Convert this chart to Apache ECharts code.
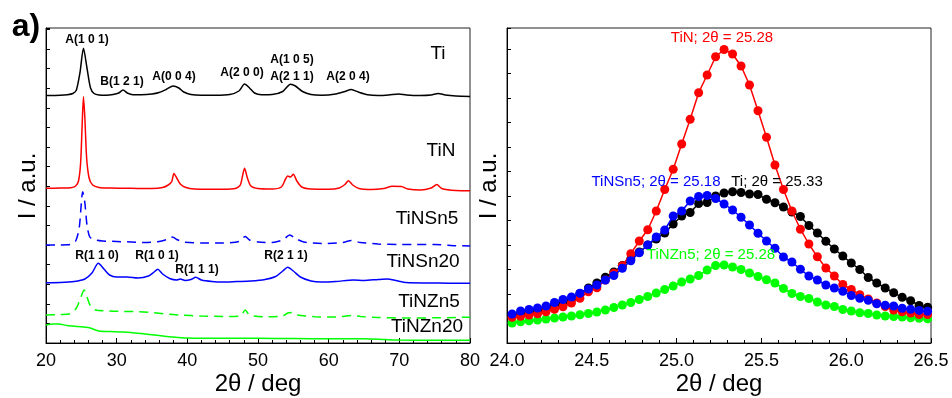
<!DOCTYPE html>
<html><head><meta charset="utf-8">
<script src="https://cdn.jsdelivr.net/npm/echarts@6.0.0/dist/echarts.min.js"></script>
<style>html,body{margin:0;padding:0;background:#fff}#c{width:952px;height:398px}</style>
</head><body><div id="c"></div>
<script>
// ---------- Left panel (XRD patterns, stacked, intensity in a.u.) ----------
const tiX = [20,22,23,23.8,24.3,24.8,25.3,25.8,26.3,26.8,27.5,28.5,29.5,30.3,30.9,31.5,32.3,33.5,35,36,37,38,38.8,39.5,40.5,42,44,46,47.3,48.1,48.8,49.5,50.5,52,53.5,54.6,55.3,56.3,57.5,59,61,62.3,63.2,64.2,65.5,67,68.5,69.9,71,73,74.5,75.5,76.5,78,80];
const tiY = [247.5,247.8,248.3,249.5,253,270,294.7,275,255,249.5,248,247.8,248.5,250,253,250,248.3,248.3,249,250.5,253.5,257,255,251,248.5,247.8,247.8,248.5,252,259,255,250,248.3,248.5,251.5,258.8,257,251.5,248.5,247.8,249,251.5,253.5,251,248.3,247.5,248,249,248,247.5,248,249.5,248,247,246.5];

const tinX = [20,22,23.5,24.2,24.6,24.9,25.1,25.3,25.5,25.75,26.1,26.6,27.5,29,31,33,35,36.5,37.3,37.8,38.1,38.5,39,39.8,41,43,45,46.8,47.5,48.1,48.5,49,50,52,53.3,53.9,54.2,54.6,55.0,55.5,56.2,57.5,60,61.5,62.3,62.8,63.4,64.3,66,67.8,69,70.3,71.2,73,74.5,75.3,76,78,80];
const tinY = [154.7,155,155.3,157,162,180,215,246.3,225,185,165,158,155.5,155,154.8,154.6,154.5,155.5,158,161.5,169.5,165,159,155.5,154,153.8,153.8,154.5,158,174.7,165,157,154.5,154,156,164,167,166,168.7,162,156,154,153.8,155,158.5,162.3,158,154.5,153.5,154.5,156.7,156.5,154,153,155,158.5,154.5,152.5,152.3];

const sn5X = [20,22,23.5,24.2,24.7,25.2,25.5,25.8,26.2,27,28,30,32,34,36,37.3,37.9,38.5,39.5,42,45,47.3,48.2,48.8,50,52,53.5,54.5,55.3,56.5,59,62,63.2,64.5,67,70,72,75,78,80];
const sn5Y = [98,98,98.5,102,115,151.3,140,118,106,103,102,101.5,101,100.5,101.5,104,106,103.5,101,100,100,101.5,106.5,103,101,100.5,103,108,104.5,101,99.5,100.5,102.5,100.5,99,98.5,98.5,98.5,97.3,97];

const sn20X = [20,22,24,25.5,26.5,27.4,28.2,29,30,31.5,33,34.5,35.3,35.8,36.5,37.5,38.5,39,39.7,40.5,41.2,42,43.5,45,47,49,51,52.5,53.5,54.2,55,56,57.5,59,61,63.5,65,67,68.3,69.5,71,74,77,80];
const sn20Y = [60.3,60.5,61.5,64,70,79.7,74,68,66,66,65,67,71,73.7,69,64.5,63,64,62.5,63.5,65.7,63,61.5,61,61.5,62,63.5,66.5,72,75.7,72,66,62,61,61.5,63,62.5,63.5,64,62.5,60.5,60,59.8,59.7];

const zn5X = [20,22,23.5,24.3,24.9,25.4,25.8,26.3,27,29,31,33,35,37,39,42,45,47.5,48.2,48.8,51,53.5,54.2,54.8,55.5,58,61,63.5,64.5,67,71,75,78,80];
const zn5Y = [28,28.5,29.5,35,45,53,46,37,33,32,31.5,31.3,30.5,29,28,27,26.5,27,33,28,26.3,27,30,30.5,28,26.3,26,27.5,26.5,25.5,25,25.2,25.5,25.8];

const zn20X = [20,21,21.8,23,24.5,26,27.5,29,30.5,32,34,36,38,40,45,50,55,60,65,68,70,75,80];
const zn20Y = [18,19,19,17.5,16.5,15.5,12,11.5,11,10.5,9,7.5,6,5,4.7,4.7,4.5,4.2,4.3,3.5,3,2.8,2.7];

// ---------- Right panel (A(101) peak detail) ----------
const peakX = [24.03,24.08,24.13,24.18,24.23,24.28,24.33,24.38,24.43,24.48,24.53,24.58,24.63,24.68,24.73,24.78,24.83,24.88,24.93,24.98,25.03,25.08,25.13,25.18,25.23,25.28,25.33,25.38,25.43,25.48,25.53,25.58,25.63,25.68,25.73,25.78,25.83,25.88,25.93,25.98,26.03,26.08,26.13,26.18,26.23,26.28,26.33,26.38,26.43,26.48];
const peakTi = [27,29,30.5,32,34,37,40,44,49.5,55,60,65.7,71,77.5,84,91,98,104,110,119,127,130.5,139.5,140.5,147,150,151.3,150.5,149,148.5,143.7,140.3,136,131,126.5,117.5,110,101.8,94,87,80,73.5,65.5,60,55,50.2,45.7,42.3,37.5,35.7];
const peakTiN = [25.7,26.7,28,29.3,31.3,33.8,36.3,40,44.7,51.3,55.2,63,69.7,77.3,89.3,102,113.3,132,153.5,173.7,199,223.7,250.3,268,286.3,293.5,289,277,258,232.3,205.7,178,153.5,132,113.8,99,86.2,75,67,58.5,53.5,48.3,44,40,36.5,33,31.3,30,28.5,28.5];
const peakSn5 = [29,32,33.5,35,37,40.5,43.5,46,49.7,54,58,63,67.5,74.7,82.3,90.3,98,106,113,127,132,142,146.5,147.5,144.5,139,133,125.7,118,109.7,102,94.7,86,81,73.7,67,63,58,55,51.8,47.5,44.7,42.7,39.3,37.7,37,34.7,33.7,32.6,31.8];
const peakZn5 = [20,21.2,22.2,23,24,25,26,27,28.3,29.5,31,33,35.5,38,40.5,43.5,46.5,50,53.5,57,61,64,67.5,73,77.5,78,76,73.5,70,66.5,63.3,60,54.5,49.5,46.5,44.5,41,38,36.5,33.5,32,30.3,29.5,28,27,26.5,26,25.2,24.7,24.2];

const leftTicks = ['20','30','40','50','60','70','80'];
const rightTicks = ['24.0','24.5','25.0','25.5','26.0','26.5'];

const FONT = '"Liberation Sans", Arial, sans-serif';
const zip = (xs, ys) => xs.map((x, i) => [x, ys[i]]);

const chart = echarts.init(document.getElementById('c'), null, {renderer: 'canvas'});

function xAxisCfg(gi, min, max, interval, fmt) {
  return {
    type: 'value', gridIndex: gi, min: min, max: max, interval: interval,
    axisLine: {lineStyle: {color: '#000', width: 1}},
    axisTick: {inside: true, length: 5, lineStyle: {color: '#000'}},
    minorTick: {show: true, splitNumber: 5, length: 3, lineStyle: {color: '#000'}},
    splitLine: {show: false},
    axisLabel: {fontSize: 18, color: '#000', fontFamily: FONT, margin: 9, formatter: fmt, hideOverlap: false}
  };
}
function yAxisCfg(gi, interval) {
  return {
    type: 'value', gridIndex: gi, min: 0, max: 315, interval: interval,
    axisLine: {lineStyle: {color: '#000', width: 1}},
    axisTick: {inside: true, length: 4, lineStyle: {color: '#000'}},
    splitLine: {show: false},
    axisLabel: {show: false}
  };
}
function lineSeries(xs, ys, color, dashed) {
  return {
    type: 'line', xAxisIndex: 0, yAxisIndex: 0, data: zip(xs, ys),
    symbol: 'none', smooth: 0.25, animation: false,
    lineStyle: {color: color, width: 1.5, type: dashed ? [9, 6] : 'solid'}
  };
}
function dotSeries(ys, color, z) {
  return {
    type: 'line', xAxisIndex: 1, yAxisIndex: 1, data: zip(peakX, ys),
    symbol: 'circle', symbolSize: 9, showSymbol: true, animation: false, z: z,
    itemStyle: {color: color}, lineStyle: {color: color, width: 1.5}
  };
}

const txt = (x, y, text, opts) => ({
  type: 'text', x: x, y: y, z: 100,
  style: Object.assign({text: text, fill: '#000', font: '19px ' + FONT, align: 'center', verticalAlign: 'middle'}, opts || {})
});

const leftFmt = v => leftTicks[Math.round((v - 20) / 10)];
const rightFmt = v => rightTicks[Math.round((v - 24) / 0.5)];

chart.setOption({
  animation: false,
  backgroundColor: '#fff',
  grid: [
    {left: 46, top: 28, width: 424, height: 315, show: true, borderColor: '#222', borderWidth: 1},
    {left: 507, top: 28, width: 424, height: 315, show: true, borderColor: '#222', borderWidth: 1}
  ],
  xAxis: [xAxisCfg(0, 20, 80, 10, leftFmt), xAxisCfg(1, 24, 26.5, 0.5, rightFmt)],
  yAxis: [yAxisCfg(0, 19.6), yAxisCfg(1, 24.5)],
  series: [
    lineSeries(tiX, tiY, '#000000', false),
    lineSeries(tinX, tinY, '#ff0000', false),
    lineSeries(sn5X, sn5Y, '#0000ff', true),
    lineSeries(sn20X, sn20Y, '#0000ff', false),
    lineSeries(zn5X, zn5Y, '#00ff00', true),
    lineSeries(zn20X, zn20Y, '#00ff00', false),
    dotSeries(peakZn5, '#00ff00', 2),
    dotSeries(peakTi, '#000000', 3),
    dotSeries(peakTiN, '#ff0000', 4),
    dotSeries(peakSn5, '#0000ff', 5)
  ],
  graphic: [
    txt(26, 27, 'a)', {font: 'bold 32px ' + FONT}),
    txt(258, 384, '2θ / deg', {font: '24px ' + FONT}),
    txt(719, 384, '2θ / deg', {font: '24px ' + FONT}),
    Object.assign(txt(28, 186, 'I / a.u.', {font: '24px ' + FONT}), {rotation: Math.PI / 2}),
    Object.assign(txt(489, 186, 'I / a.u.', {font: '24px ' + FONT}), {rotation: Math.PI / 2}),
    // peak indexes
    txt(87, 40, 'A(1 0 1)', {font: 'bold 12px ' + FONT}),
    txt(122, 82, 'B(1 2 1)', {font: 'bold 12px ' + FONT}),
    txt(174, 77, 'A(0 0 4)', {font: 'bold 12px ' + FONT}),
    txt(242, 73, 'A(2 0 0)', {font: 'bold 12px ' + FONT}),
    txt(292, 60, 'A(1 0 5)', {font: 'bold 12px ' + FONT}),
    txt(292, 77, 'A(2 1 1)', {font: 'bold 12px ' + FONT}),
    txt(348, 77, 'A(2 0 4)', {font: 'bold 12px ' + FONT}),
    txt(97, 256, 'R(1 1 0)', {font: 'bold 12px ' + FONT}),
    txt(157, 256, 'R(1 0 1)', {font: 'bold 12px ' + FONT}),
    txt(197, 270, 'R(1 1 1)', {font: 'bold 12px ' + FONT}),
    txt(286, 256, 'R(2 1 1)', {font: 'bold 12px ' + FONT}),
    // sample names
    txt(438, 54, 'Ti'),
    txt(441, 151, 'TiN'),
    txt(427, 219, 'TiNSn5'),
    txt(423, 262, 'TiNSn20'),
    txt(429, 302, 'TiNZn5'),
    txt(427, 327, 'TiNZn20'),
    // right panel peak positions
    txt(722, 38, 'TiN; 2θ = 25.28', {font: '15px ' + FONT, fill: '#ff0000'}),
    txt(656, 182, 'TiNSn5; 2θ = 25.18', {font: '15px ' + FONT, fill: '#0000ff'}),
    txt(777, 182, 'Ti; 2θ = 25.33', {font: '15px ' + FONT, fill: '#000000'}),
    txt(711, 255, 'TiNZn5; 2θ = 25.28', {font: '15px ' + FONT, fill: '#00ff00'})
  ]
});
</script></body></html>
